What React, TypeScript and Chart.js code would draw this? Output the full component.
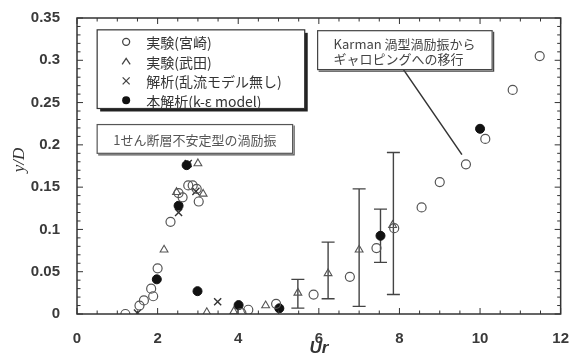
import React, { useEffect, useRef } from "react";
import { Chart, registerables } from "chart.js";
Chart.register(...registerables);

// 実験(宮崎)
const miyazakiX = [1.2, 1.55, 1.66, 1.84, 1.89, 2.0, 2.32, 2.52, 2.62, 2.76, 2.87, 2.97, 3.02, 4.08, 4.25, 4.94, 5.87, 6.77, 7.43, 7.87, 8.55, 9.0, 9.65, 10.13, 10.81, 11.48];
const miyazakiY = [0.0, 0.010, 0.016, 0.030, 0.021, 0.054, 0.109, 0.143, 0.138, 0.152, 0.152, 0.148, 0.133, 0.001, 0.005, 0.012, 0.023, 0.044, 0.078, 0.1015, 0.126, 0.156, 0.177, 0.207, 0.265, 0.305];
// 実験(武田)
const takedaX = [2.16, 2.47, 3.0, 3.13, 3.22, 3.89, 4.68, 5.48, 6.23, 7.0, 7.83];
const takedaY = [0.076, 0.144, 0.178, 0.142, 0.002, 0.003, 0.010, 0.025, 0.048, 0.076, 0.105];
// 解析(乱流モデル無し)
const noModelX = [1.5, 2.52, 2.76, 2.95, 3.49];
const noModelY = [0.001, 0.120, 0.178, 0.145, 0.0145];
// 本解析(k-ε model)
const keX = [1.98, 2.52, 2.72, 2.99, 4.01, 5.02, 7.53, 10.0];
const keY = [0.041, 0.128, 0.176, 0.027, 0.0105, 0.0067, 0.0925, 0.219];
// error bars
const errX = [5.48, 6.23, 7.0, 7.53, 7.85];
const errLow = [0.007, 0.018, 0.009, 0.061, 0.023];
const errHigh = [0.041, 0.085, 0.148, 0.124, 0.191];

const legendLabels = ["実験(宮崎)", "実験(武田)", "解析(乱流モデル無し)", "本解析(k-ε model)"];
const note1 = "1せん断層不安定型の渦励振";
const note2 = ["Karman 渦型渦励振から", "ギャロピングへの移行"];

const pts = (xs: number[], ys: number[]) => xs.map((x, i) => ({ x, y: ys[i] }));

const decor = {
  id: "decor",
  beforeDatasetsDraw(chart: any) {
    const { ctx, scales } = chart;
    const xs = scales.x, ys = scales.y;
    ctx.save();
    ctx.strokeStyle = "#444";
    ctx.lineWidth = 1.4;
    errX.forEach((v, i) => {
      const px = xs.getPixelForValue(v);
      const lo = ys.getPixelForValue(errLow[i]);
      const hi = ys.getPixelForValue(errHigh[i]);
      ctx.beginPath();
      ctx.moveTo(px, lo); ctx.lineTo(px, hi);
      ctx.moveTo(px - 6.5, lo); ctx.lineTo(px + 6.5, lo);
      ctx.moveTo(px - 6.5, hi); ctx.lineTo(px + 6.5, hi);
      ctx.stroke();
    });
    ctx.restore();
  },
  afterDraw(chart: any) {
    const { ctx, scales, chartArea: a } = chart;
    const xs = scales.x, ys = scales.y;
    ctx.save();
    // frame
    ctx.strokeStyle = "#333";
    ctx.lineWidth = 1.5;
    ctx.strokeRect(a.left, a.top, a.right - a.left, a.bottom - a.top);
    // ticks
    ctx.lineWidth = 1;
    ctx.beginPath();
    for (let i = 0; i <= 24; i++) {
      const px = xs.getPixelForValue(i * 0.5);
      const len = i % 4 === 0 ? 6 : 3.5;
      ctx.moveTo(px, a.bottom); ctx.lineTo(px, a.bottom - len);
      ctx.moveTo(px, a.top); ctx.lineTo(px, a.top + len);
    }
    for (let i = 0; i <= 35; i++) {
      const py = ys.getPixelForValue(i * 0.01);
      const len = i % 5 === 0 ? 6 : 3.5;
      ctx.moveTo(a.left, py); ctx.lineTo(a.left + len, py);
      ctx.moveTo(a.right, py); ctx.lineTo(a.right - len, py);
    }
    ctx.stroke();

    // axis titles
    ctx.fillStyle = "#333";
    ctx.textAlign = "center";
    ctx.textBaseline = "middle";
    ctx.font = 'bold italic 17px "Liberation Sans"';
    ctx.fillText("Ur", (a.left + a.right) / 2, 348);
    ctx.save();
    ctx.translate(20, 160);
    ctx.rotate(-Math.PI / 2);
    ctx.font = 'italic 17px "Liberation Serif"';
    ctx.fillText("y/D", 0, 0);
    ctx.restore();

    // legend box
    const lx0 = xs.getPixelForValue(0.5), lx1 = xs.getPixelForValue(5.65);
    const ly0 = ys.getPixelForValue(0.336), ly1 = ys.getPixelForValue(0.243);
    ctx.fillStyle = "#222";
    ctx.fillRect(lx0 + 3, ly0 + 3, lx1 - lx0, ly1 - ly0);
    ctx.fillStyle = "#fff";
    ctx.fillRect(lx0, ly0, lx1 - lx0, ly1 - ly0);
    ctx.strokeStyle = "#333";
    ctx.lineWidth = 1.2;
    ctx.strokeRect(lx0, ly0, lx1 - lx0, ly1 - ly0);
    ctx.textAlign = "left";
    ctx.font = '14px "Noto Sans CJK JP"';
    legendLabels.forEach((t, i) => {
      const ry = ly0 + 12 + i * 19.5;
      const mx = lx0 + 29;
      ctx.strokeStyle = "#444";
      ctx.fillStyle = "#111";
      ctx.lineWidth = 1.3;
      ctx.beginPath();
      if (i === 0) {
        ctx.arc(mx, ry, 3.5, 0, Math.PI * 2); ctx.stroke();
      } else if (i === 1) {
        ctx.moveTo(mx - 4, ry + 3); ctx.lineTo(mx, ry - 3); ctx.lineTo(mx + 4, ry + 3); ctx.stroke();
      } else if (i === 2) {
        ctx.moveTo(mx - 3.5, ry - 3.5); ctx.lineTo(mx + 3.5, ry + 3.5);
        ctx.moveTo(mx + 3.5, ry - 3.5); ctx.lineTo(mx - 3.5, ry + 3.5); ctx.stroke();
      } else {
        ctx.arc(mx, ry, 4, 0, Math.PI * 2); ctx.fill();
      }
      ctx.fillStyle = "#333";
      ctx.fillText(t, lx0 + 49, ry + 1);
    });

    // note box 1
    const b1x0 = xs.getPixelForValue(0.5), b1x1 = xs.getPixelForValue(5.35);
    const b1y0 = ys.getPixelForValue(0.224), b1y1 = ys.getPixelForValue(0.19);
    ctx.fillStyle = "#fff";
    ctx.fillRect(b1x0, b1y0, b1x1 - b1x0, b1y1 - b1y0);
    ctx.strokeStyle = "#555";
    ctx.lineWidth = 1.2;
    ctx.strokeRect(b1x0, b1y0, b1x1 - b1x0, b1y1 - b1y0);
    ctx.beginPath();
    ctx.moveTo(b1x0 + 1, b1y1 + 1.5); ctx.lineTo(b1x1 + 1.5, b1y1 + 1.5); ctx.lineTo(b1x1 + 1.5, b1y0 + 1);
    ctx.stroke();
    ctx.fillStyle = "#555";
    ctx.textAlign = "center";
    ctx.font = '13px "Noto Sans CJK JP"';
    ctx.fillText(note1, (b1x0 + b1x1) / 2, (b1y0 + b1y1) / 2 + 1);

    // note box 2 + leader line
    const b2x0 = xs.getPixelForValue(5.97), b2x1 = xs.getPixelForValue(10.3);
    const b2y0 = ys.getPixelForValue(0.335), b2y1 = ys.getPixelForValue(0.289);
    ctx.strokeStyle = "#333";
    ctx.lineWidth = 1.5;
    ctx.beginPath();
    ctx.moveTo(xs.getPixelForValue(8.1), b2y1);
    ctx.lineTo(xs.getPixelForValue(9.55), ys.getPixelForValue(0.1885));
    ctx.stroke();
    ctx.fillStyle = "#fff";
    ctx.fillRect(b2x0, b2y0, b2x1 - b2x0, b2y1 - b2y0);
    ctx.strokeStyle = "#444";
    ctx.lineWidth = 1.2;
    ctx.strokeRect(b2x0, b2y0, b2x1 - b2x0, b2y1 - b2y0);
    ctx.beginPath();
    ctx.moveTo(b2x0 + 1, b2y1 + 1.5); ctx.lineTo(b2x1 + 1.5, b2y1 + 1.5); ctx.lineTo(b2x1 + 1.5, b2y0 + 1);
    ctx.stroke();
    ctx.fillStyle = "#444";
    ctx.textAlign = "left";
    ctx.font = '13px "Noto Sans CJK JP"';
    ctx.fillText(note2[0], b2x0 + 16, b2y0 + 13);
    ctx.fillText(note2[1], b2x0 + 16, b2y0 + 28);
    ctx.restore();
  },
};

export default function App() {
  const ref = useRef<HTMLCanvasElement>(null);
  useEffect(() => {
    if (!ref.current) return;
    const tickFont = { family: "Liberation Sans", size: 15, weight: "bold" as const };
    const chart = new Chart(ref.current, {
      type: "scatter",
      data: {
        datasets: [
          { label: legendLabels[0], data: pts(miyazakiX, miyazakiY), pointStyle: "circle", pointRadius: 4.5, borderColor: "#555", backgroundColor: "rgba(255,255,255,0)", borderWidth: 1.2 },
          { label: legendLabels[1], data: pts(takedaX, takedaY), pointStyle: "triangle", pointRadius: 4.5, borderColor: "#555", backgroundColor: "rgba(255,255,255,0)", borderWidth: 1.1 },
          { label: legendLabels[3], data: pts(keX, keY), pointStyle: "circle", pointRadius: 4.5, borderColor: "#111", backgroundColor: "#111", borderWidth: 1 },
          { label: legendLabels[2], data: pts(noModelX, noModelY), pointStyle: "crossRot", pointRadius: 5, borderColor: "#333", borderWidth: 1.4 },
        ],
      },
      options: {
        animation: false,
        responsive: false,
        devicePixelRatio: 1,
        layout: { padding: { top: 14, right: 4, left: 0, bottom: 0 } },
        plugins: { legend: { display: false }, tooltip: { enabled: false } },
        scales: {
          x: {
            type: "linear", min: 0, max: 12,
            grid: { display: false },
            border: { display: false },
            ticks: { stepSize: 2, font: tickFont, color: "#3a3a3a", padding: 8, maxRotation: 0 },
            afterFit: (s: any) => { s.height = 47; },
          },
          y: {
            type: "linear", min: 0, max: 0.35,
            grid: { display: false },
            border: { display: false },
            ticks: {
              stepSize: 0.05, font: tickFont, color: "#3a3a3a", padding: 9,
              callback: (v: any) => String(Number(Number(v).toFixed(2))),
            },
            afterFit: (s: any) => { s.width = 77; },
          },
        },
      },
      plugins: [decor],
    });
    return () => chart.destroy();
  }, []);
  return (
    <div style={{ position: "fixed", left: 0, top: 0, width: 577, height: 361, background: "#fff" }}>
      <canvas ref={ref} width={577} height={361} style={{ display: "block" }} />
    </div>
  );
}
